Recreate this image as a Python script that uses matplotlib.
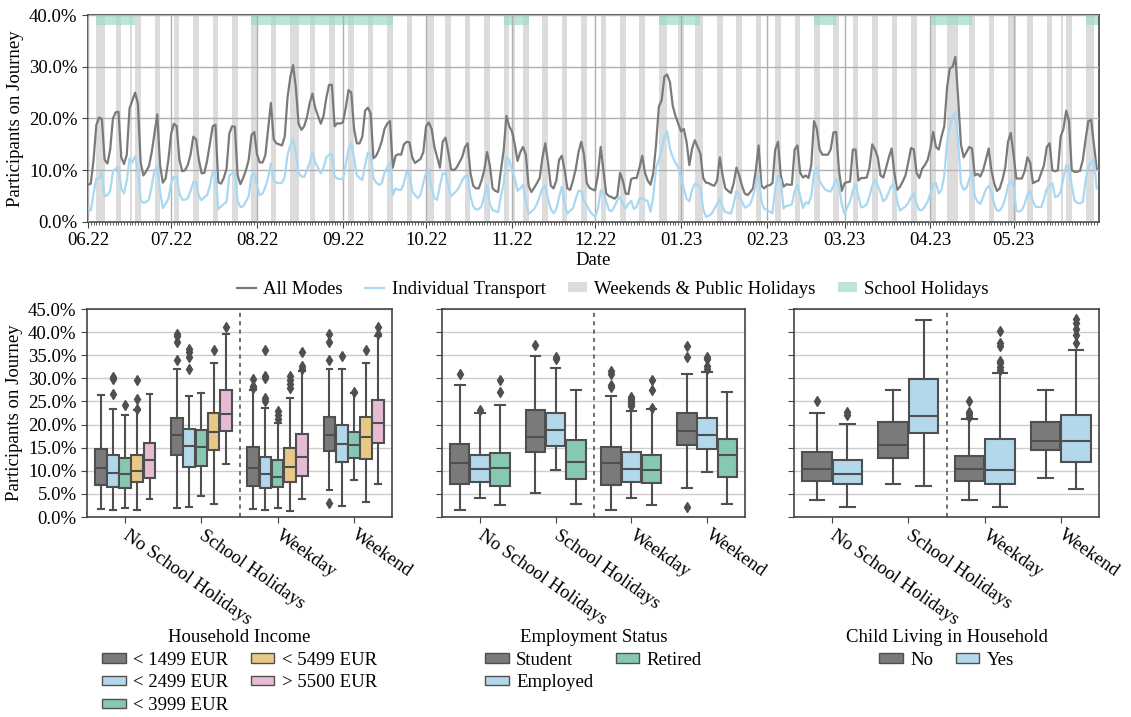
import matplotlib
matplotlib.use("Agg")
import matplotlib.pyplot as plt
import matplotlib.dates as mdates
from matplotlib.patches import Patch
from matplotlib.lines import Line2D
from matplotlib.ticker import FuncFormatter, MultipleLocator
import numpy as np
import pandas as pd

plt.rcParams['font.family'] = ['Liberation Serif', 'DejaVu Serif']
plt.rcParams['mathtext.fontset'] = 'stix'

# ---------------- time series data (daily, from 2022-06-01) ----------------
all_modes = [
    7.2, 7.4, 12, 18.7, 20.2, 19.9, 12, 11.3, 14.0, 20,
    21.2, 21.3, 12.5, 11.2, 13, 22, 23.5, 25.0, 22.9, 11.5,
    9.0, 9.8, 10.8, 13.5, 17.1, 20.8, 11, 7.6, 8.4, 12,
    17, 19.0, 18.5, 12, 9.8, 10.0, 11.0, 13, 16.5, 16,
    12, 9.4, 9.5, 11.9, 15.2, 18.5, 18.8, 7.7, 7.4, 8.5,
    10.3, 17.1, 18.5, 18.4, 9, 7.3, 8.5, 10, 12, 16.8,
    17.4, 13, 11.5, 11.5, 12.9, 18, 23, 16, 15.2, 15.0,
    14.8, 16.5, 24, 28, 30.3, 26, 19, 17.8, 18.5, 20.2,
    23, 24.8, 22.0, 20.5, 19.0, 20.5, 24, 26.5, 26.5, 18.5,
    19.1, 19.0, 19.3, 22, 25.5, 25, 18, 15.2, 15.2, 16.5,
    21.5, 22.1, 21.0, 12.3, 12.8, 14, 15.6, 18, 19.0, 19.5,
    10.5, 12.8, 13.1, 13.0, 15.0, 15.5, 15.4, 12.5, 11.4, 11.8,
    12.2, 13.5, 18.5, 19.2, 18.0, 14.5, 12.5, 10.5, 15.5, 16.3,
    13.5, 10.2, 10.0, 10.5, 11.5, 12.5, 14.4, 15.2, 9.5, 7.0,
    6.5, 6.5, 8.0, 10.0, 13.5, 11.0, 6.5, 6.0, 5.8, 10,
    13.8, 20.5, 18.5, 17.5, 15, 11.8, 13.5, 14.5, 13.0, 7.0,
    5.8, 6.6, 7.5, 8.5, 12.5, 15.2, 11.5, 7.0, 6.5, 8.0,
    12.0, 12.8, 10, 6.5, 6.2, 8, 10.2, 13.5, 15.5, 13.0,
    7.5, 6.6, 6.3, 6.1, 9, 14.5, 10, 5.5, 5.0, 4.8,
    4.5, 5, 9.5, 8, 5.5, 5.4, 8.3, 8.5, 8.5, 10.5,
    12.8, 9.5, 8.0, 7.2, 9.5, 15, 22.3, 23.5, 28.1, 28.5,
    27, 22.5, 20.5, 19, 17.5, 18, 15.5, 11, 14.2, 15.8,
    14.5, 13.2, 8.5, 7.6, 7.5, 7.2, 7.0, 8, 12.5, 9,
    6.5, 6.0, 5.6, 7.5, 10.5, 9, 7, 5.5, 5.2, 5.8,
    6.5, 10, 14.8, 7.0, 6.5, 7.0, 7.1, 7.5, 14.0, 15.5,
    9, 6.8, 7.3, 7.2, 7.2, 14, 14.8, 9.5, 8.6, 9.0,
    8.5, 11, 19.5, 18, 14, 13, 13.0, 13, 14, 17.3,
    17.4, 10, 6.0, 7.5, 7.7, 7.8, 14, 14.0, 8.0, 8.5,
    8.5, 8.6, 10.5, 15, 14, 12.5, 9, 8.6, 10.5, 12.5,
    14.2, 9.5, 6.2, 6.8, 7.8, 9.0, 11.5, 14.3, 14.0, 9.5,
    8.5, 10.3, 11, 12, 14.2, 17.4, 14.5, 14, 16.5, 18.5,
    26, 29.7, 30, 31.9, 24, 15, 12.5, 13.5, 14.5, 14.2,
    9.0, 9.3, 8.8, 10, 12, 14.2, 10, 7.5, 6.0, 6.5,
    8.2, 10.5, 15.5, 17.2, 13, 8.4, 8.4, 8.4, 9.8, 12.5,
    11.5, 7.5, 7.8, 8.0, 9.5, 11, 14.5, 15.2, 10, 9.8,
    10, 16.5, 18, 21.5, 19.5, 10, 9.7, 9.7, 9.9, 12,
    16, 19.5, 19.7, 15, 10.3,
]
individual = [
    2.6, 2.2, 5.5, 8.4, 8.4, 9.5, 5.0, 5.2, 6, 9.7,
    10.3, 10.8, 6.5, 5.5, 8, 12.3, 11.5, 12.7, 10, 4.2,
    3.7, 3.9, 4.3, 7, 10.0, 10.8, 6, 2.7, 3.5, 4.5,
    7.5, 8.7, 8.7, 5.5, 4.3, 4.3, 4.6, 6, 7.7, 7.7,
    5, 4.2, 4.8, 5.2, 7, 9.7, 9.7, 2.5, 3.0, 3.5,
    3.9, 9.0, 9.4, 9.4, 4, 2.9, 3.0, 4.0, 5.0, 9.0,
    9.4, 7, 5.2, 5.5, 6.8, 8.5, 11.3, 8, 7.6, 7.5,
    7.6, 8.7, 13, 14.8, 15.9, 13.5, 9.5, 8.8, 8.7, 10,
    11.5, 13.5, 11.5, 10.5, 9.4, 10.5, 12.5, 13, 13.1, 8.8,
    8.4, 8.3, 8.2, 11, 14, 15.2, 12.5, 9.0, 8.5, 8.1,
    11, 13.4, 13.2, 8.5, 7.6, 7.2, 7.5, 9.5, 10.6, 11.6,
    5.2, 6.5, 6.2, 6.2, 7.5, 9.7, 9.2, 6, 5.2, 4.6,
    5.3, 7.5, 9.5, 10.0, 6.5, 4.6, 4.3, 7, 9.4, 9.4,
    7, 5.0, 5.5, 6.0, 6.8, 8, 8.8, 9.0, 5, 3.0,
    2.4, 2.5, 3.0, 5, 7.0, 3.5, 2.3, 2.1, 1.9, 5,
    7.3, 12.5, 12, 9.8, 8.5, 6, 6.5, 7.2, 4, 1.6,
    2.0, 2.5, 3.5, 5.0, 6.5, 7.1, 4.5, 2.5, 1.7, 2.5,
    4.8, 6.8, 3.5, 1.6, 2.2, 2.6, 4.5, 6, 6.0, 4.0,
    3.2, 2.2, 1.5, 1.0, 2.5, 6.1, 5.9, 4, 2.3, 2.1,
    3, 4.2, 4.8, 3.5, 2.6, 3.5, 4.1, 2.5, 3.0, 4.5,
    4.5, 4.3, 4.0, 2.0, 5.0, 10.5, 12.0, 14, 16.5, 17.5,
    14.2, 12.5, 11.5, 10.5, 8.5, 6.5, 4.5, 4.0, 6.2, 7.4,
    7.2, 6.8, 2.5, 1.0, 1.2, 1.6, 2.5, 3.5, 4.5, 3.0,
    1.9, 1.8, 1.6, 3.5, 6.0, 5.0, 4, 2.8, 3.0, 3.5,
    5, 7.5, 9.4, 4, 2.6, 2.3, 2.0, 1.7, 6.5, 9.0,
    8.0, 2.6, 3.1, 3.2, 3.4, 6.0, 7.2, 5, 2.7, 3.8,
    3.5, 5, 9.5, 10.5, 8.0, 7.0, 6.3, 6.0, 5.9, 7.0,
    8.3, 7.0, 3.5, 1.5, 2.9, 4.0, 6.0, 7.4, 5, 2.8,
    3.0, 3.4, 5.0, 7.0, 8.2, 7.0, 5.7, 4.0, 4.5, 5.8,
    7.0, 7.3, 4.0, 2.2, 2.6, 3.0, 3.7, 4.8, 5.5, 3.5,
    2.3, 2.3, 3.0, 4.0, 5.5, 7.3, 7.5, 5.5, 6.2, 9,
    15.5, 18.5, 20.5, 21.3, 15.5, 7.5, 6.2, 6.6, 8.2, 9.7,
    5, 3.9, 3.5, 4.8, 6.3, 7.0, 6.0, 3.5, 2.2, 2.2,
    3.0, 4.5, 7.0, 8.0, 7.0, 2.2, 2.0, 2.3, 3.5, 5.3,
    6.0, 4.0, 2.9, 2.9, 2.9, 4.5, 6.4, 7.0, 7.5, 4.8,
    5.0, 5.8, 8.5, 11.0, 10.6, 7.0, 4.2, 3.7, 3.6, 3.9,
    8, 10.8, 11.5, 12.1, 6.5,
]
start_date = "2022-06-01"
public_holidays = ["2022-06-06", "2022-06-16", "2022-08-15", "2022-10-03", "2022-11-01",
                   "2022-12-25", "2022-12-26", "2023-01-01", "2023-01-06", "2023-04-07",
                   "2023-04-10", "2023-05-01", "2023-05-18", "2023-05-29"]
school_holiday_start = ["2022-06-04", "2022-07-30", "2022-10-29", "2022-12-24", "2023-02-18", "2023-04-01", "2023-05-27"]
school_holiday_end = ["2022-06-18", "2022-09-19", "2022-11-07", "2023-01-08", "2023-02-26", "2023-04-16", "2023-06-01"]

# ---------------- box plot data ----------------
categories = ["No School Holidays", "School Holidays", "Weekday", "Weekend"]

income_labels = ["< 1499 EUR", "< 2499 EUR", "< 3999 EUR", "< 5499 EUR", "> 5500 EUR"]
# [category][hue]
income_whislo = [[1.8, 1.6, 2.0, 1.5, 4.0], [2.0, 2.2, 4.5, 2.9, 11.4],
                 [1.8, 1.6, 2.0, 1.4, 4.0], [5.9, 2.3, 8.0, 3.3, 7.2]]
income_q1 = [[6.9, 6.4, 6.3, 7.5, 8.5], [13.5, 10.9, 11.1, 14.4, 18.5],
             [6.8, 6.2, 6.4, 7.6, 8.8], [14.3, 11.9, 12.8, 12.5, 16.1]]
income_med = [[10.7, 9.6, 9.2, 10.0, 12.4], [17.7, 15.4, 15.2, 18.3, 22.3],
              [10.7, 9.3, 8.7, 10.9, 12.9], [17.7, 15.9, 15.5, 17.2, 20.3]]
income_q3 = [[14.7, 13.5, 12.7, 13.5, 16.1], [21.4, 19.0, 18.8, 22.4, 27.4],
             [15.2, 13.0, 12.3, 15.0, 17.9], [21.7, 19.8, 18.3, 21.7, 25.3]]
income_whishi = [[26.4, 23.3, 22.0, 23.2, 26.6], [32.1, 26.1, 26.8, 33.3, 39.6],
                 [27.5, 23.5, 20.4, 25.8, 31.5], [32.1, 32.0, 26.8, 33.3, 39.2]]
income_fliers = [[[], [30.2, 29.9, 26.6], [24.2], [29.7, 25.6, 23.3], []],
                 [[39.6, 39.1, 37.8, 33.9], [36.3, 35.8, 34.7, 32.0], [], [36.2], [41.2]],
                 [[29.8, 28.4, 27.9], [36.2, 30.5, 30.0, 25.8, 25.1], [22.9, 22.1, 21.3],
                  [30.4, 29.7, 28.8, 27.9], [35.8, 32.6, 32.0]],
                 [[39.6, 37.8, 33.9, 3.1], [34.9], [27.1], [36.2], [41.2, 39.6]]]

employment_labels = ["Student", "Employed", "Retired"]
employment_whislo = [[1.6, 4.1, 2.5], [5.1, 10.1, 2.8], [1.6, 4.1, 2.5], [6.3, 9.8, 2.8]]
employment_q1 = [[7.2, 7.5, 6.8], [14.0, 15.3, 8.3], [7.0, 7.5, 7.3], [15.5, 14.8, 8.7]]
employment_med = [[11.6, 10.3, 10.5], [17.4, 18.8, 11.8], [11.6, 10.3, 10.2], [18.7, 17.7, 13.4]]
employment_q3 = [[15.7, 13.5, 13.8], [23.2, 22.6, 16.6], [15.2, 14.1, 13.5], [22.6, 21.5, 16.8]]
employment_whishi = [[28.6, 22.4, 24.3], [34.8, 32.3, 27.5], [26.2, 22.9, 23.4], [31.0, 31.3, 27.0]]
employment_fliers = [[[31.0], [23.2], [29.7, 27.0]],
                     [[37.3], [34.6, 34.2], []],
                     [[31.5, 31.0, 28.6, 28.1], [26.0, 25.6, 25.2, 24.8, 24.4, 24.0], [29.7, 27.5, 23.6]],
                     [[37.1, 34.7, 2.1], [34.6, 34.2, 32.6, 32.0], []]]

child_labels = ["No", "Yes"]
child_whislo = [[3.6, 2.1], [7.2, 6.8], [3.6, 2.1], [8.4, 6.0]]
child_q1 = [[7.8, 7.1], [12.7, 18.1], [7.8, 7.1], [14.5, 12.0]]
child_med = [[10.4, 9.2], [15.6, 21.9], [10.3, 10.1], [16.4, 16.4]]
child_q3 = [[14.1, 12.4], [20.5, 29.8], [13.2, 16.9], [20.6, 22.0]]
child_whishi = [[22.4, 20.1], [27.5, 42.7], [21.1, 31.1], [27.5, 36.2]]
child_fliers = [[[25.0], [22.8, 22.1]],
                [[], []],
                [[25.0, 22.8, 22.2, 21.6], [40.3, 37.6, 36.9, 33.8, 33.3, 32.5, 31.8]],
                [[], [42.8, 42.0, 40.7, 39.4, 37.6]]]

hue_colors = ["#7a7a7a", "#b3d8ec", "#87c8b3", "#e8c886", "#e5bcd3"]
edge_col = "#4f4f4f"

# ---------------- figure ----------------
fig = plt.figure(figsize=(11.31, 7.17), dpi=100)
W, H = 1131, 717

def ax_rect(x0, y0, x1, y1):
    return [x0 / W, 1 - y1 / H, (x1 - x0) / W, (y1 - y0) / H]

ax = fig.add_axes(ax_rect(88, 15, 1099, 222))
dates = pd.date_range(start_date, periods=len(all_modes), freq="D")
end = dates[-1] + pd.Timedelta(hours=20)

# weekend / holiday shading
hol = set(pd.to_datetime(public_holidays))
for d in dates:
    if d.weekday() >= 5 or d in hol:
        ax.axvspan(d, d + pd.Timedelta(days=1), color="#dcdcdc", lw=0, zorder=0.5)
for s, e in zip(school_holiday_start, school_holiday_end):
    ax.axvspan(pd.Timestamp(s), min(pd.Timestamp(e), end), ymin=38 / 40, ymax=1.0,
               color="#9fdcc8", alpha=0.7, lw=0, zorder=0.6)

ax.plot(dates, all_modes, color="#7a7a7a", lw=1.6, zorder=3)
ax.plot(dates, individual, color="#a9d8f2", lw=1.6, zorder=3)

ax.set_xlim(dates[0], end)
ax.set_ylim(0, 40)
ax.yaxis.set_major_locator(MultipleLocator(10))
ax.yaxis.set_major_formatter(FuncFormatter(lambda v, p: f"{v:.1f}%"))
ax.xaxis.set_major_locator(mdates.MonthLocator())
ax.xaxis.set_major_formatter(mdates.DateFormatter("%m.%y"))
ax.xaxis.set_minor_locator(mdates.DayLocator())
ax.grid(True, which="major", color="#b0b0b0", lw=1.0, zorder=1)
ax.set_axisbelow(False)
for sp in ax.spines.values():
    sp.set_color("#444444")
    sp.set_linewidth(1.2)
ax.tick_params(axis="both", which="major", labelsize=13.5, length=4, color="#444444")
ax.tick_params(axis="x", which="minor", length=2, color="#444444", width=0.6)
ax.set_ylabel("Participants on Journey", fontsize=13.5)
ax.set_xlabel("Date", fontsize=13.5, labelpad=2)

handles = [Line2D([], [], color="#7a7a7a", lw=1.6), Line2D([], [], color="#a9d8f2", lw=1.6),
           Patch(facecolor="#dcdcdc", edgecolor="none"), Patch(facecolor="#bce6da", edgecolor="none")]
fig.legend(handles, ["All Modes", "Individual Transport", "Weekends & Public Holidays", "School Holidays"],
           loc="center", bbox_to_anchor=(613 / W, 1 - 289 / H), ncol=4, frameon=False,
           fontsize=13.5, handlelength=1.0, handleheight=0.5, columnspacing=1.2, handletextpad=0.4)

# ---------------- box plots ----------------
panels = [
    ((87, 309, 392, 517), income_labels, income_whislo, income_q1, income_med, income_q3, income_whishi, income_fliers, "Household Income"),
    ((442, 309, 745, 517), employment_labels, employment_whislo, employment_q1, employment_med, employment_q3, employment_whishi, employment_fliers, "Employment Status"),
    ((794, 309, 1099, 517), child_labels, child_whislo, child_q1, child_med, child_q3, child_whishi, child_fliers, "Child Living in Household"),
]

for pi, (rect, labels, wlo, q1, med, q3, whi, fl, title) in enumerate(panels):
    bax = fig.add_axes(ax_rect(*rect))
    n = len(labels)
    bw = 0.8 / n
    for h in range(n):
        stats = []
        pos = []
        for c in range(len(categories)):
            stats.append(dict(whislo=wlo[c][h], q1=q1[c][h], med=med[c][h], q3=q3[c][h],
                              whishi=whi[c][h], fliers=fl[c][h]))
            pos.append(c - 0.4 + bw * (h + 0.5))
        bax.bxp(stats, positions=pos, widths=bw * 0.96, patch_artist=True, showfliers=True,
                boxprops=dict(facecolor=hue_colors[h], edgecolor=edge_col, linewidth=1.5),
                medianprops=dict(color=edge_col, linewidth=1.5),
                whiskerprops=dict(color=edge_col, linewidth=1.5),
                capprops=dict(color=edge_col, linewidth=1.5),
                flierprops=dict(marker="d", markerfacecolor=edge_col, markeredgecolor=edge_col,
                                markersize=5),
                manage_ticks=False, zorder=3)
    bax.axvline(1.5, color="#555555", lw=1.2, ls=(0, (2.5, 2.5)), zorder=2)
    bax.set_xlim(-0.5, 3.5)
    bax.set_ylim(0, 45)
    bax.yaxis.set_major_locator(MultipleLocator(5))
    bax.yaxis.grid(True, color="#cccccc", lw=1.0, zorder=0)
    bax.set_axisbelow(True)
    bax.set_xticks(range(len(categories)))
    bax.set_xticklabels(categories, rotation=-35, ha="left", va="center",
                        rotation_mode="anchor", fontsize=13.5)
    for sp in bax.spines.values():
        sp.set_color("#444444")
        sp.set_linewidth(1.2)
    bax.tick_params(axis="both", labelsize=13.5, length=4, color="#444444")
    bax.tick_params(axis="x", pad=8)
    if pi == 0:
        bax.yaxis.set_major_formatter(FuncFormatter(lambda v, p: f"{v:.1f}%"))
        bax.set_ylabel("Participants on Journey", fontsize=13.5)
    else:
        bax.set_yticklabels([])
    lh = [Patch(facecolor=hue_colors[h], edgecolor=edge_col, linewidth=1.0) for h in range(n)]
    leg = bax.legend(lh, labels, title=title, loc="upper center",
                     bbox_to_anchor=(0.5, -(616 - 517) / 208), ncol=2, frameon=False,
                     fontsize=13.5, title_fontsize=13.5, handlelength=1.25, handleheight=0.4,
                     columnspacing=1.2, handletextpad=0.4, labelspacing=0.3, borderpad=0.2)

fig.savefig("out.png", dpi=100)
